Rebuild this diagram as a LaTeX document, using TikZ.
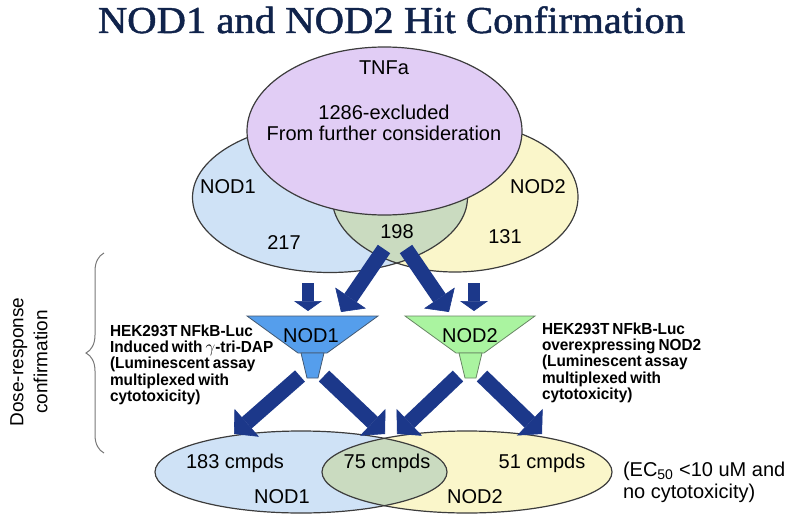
\documentclass[tikz,border=0pt]{standalone}
\usepackage{fontspec}
\setmainfont{Liberation Sans}
\newfontfamily\titlefont[FakeBold=1.2]{Liberation Serif}
\newfontfamily\sidefont[FakeStretch=0.96,WordSpace=0.7]{Liberation Sans}
\usetikzlibrary{arrows.meta,decorations.pathreplacing}
\definecolor{titleblue}{RGB}{16,35,75}
\definecolor{tnfpurple}{RGB}{225,205,245}
\definecolor{nodblue}{RGB}{207,226,246}
\definecolor{nodyellow}{RGB}{250,246,202}
\definecolor{lensgreen}{RGB}{202,219,192}
\definecolor{arrowblue}{RGB}{28,56,138}
\definecolor{funnelblue}{RGB}{85,158,236}
\definecolor{funnelgreen}{RGB}{170,244,160}
\definecolor{outline}{RGB}{60,60,60}
\definecolor{bracegrey}{RGB}{120,120,120}
\tikzset{
  vennline/.style={draw=outline, line width=1.2pt},
  lbl/.style={inner sep=0pt, outer sep=0pt, font=\fontsize{20}{24}\selectfont},
  sidetext/.style={inner sep=0pt, outer sep=0pt, anchor=north west, align=left,
    font=\sidefont\bfseries\fontsize{16}{16.2}\selectfont},
  blockarrow/.style={draw=arrowblue, line width=15pt,
    -{Triangle[width=37pt,length=17pt,line width=0.6pt]}},
  smallarrow/.style={draw=arrowblue, line width=12pt,
    -{Triangle[width=28pt,length=10pt,line width=0.6pt]}},
  funnelA/.style={fill=funnelblue, draw=outline!70!funnelblue, line width=0.8pt},
  funnelB/.style={fill=funnelgreen, draw=outline!60!funnelgreen, line width=0.8pt},
}
\begin{document}
\begin{tikzpicture}[x=1pt,y=-1pt]
\path[use as bounding box] (0,0) rectangle (800,519);

% title
\node[anchor=base, inner sep=0pt, text=titleblue, font=\titlefont\fontsize{38}{40}\selectfont]
  (title) at (391.5,33) {\scalebox{1.07}[1]{NOD1 and NOD2 Hit Confirmation}};

% ---------- top Venn ----------
\fill[nodblue] (330,197.5) ellipse [x radius=137.5pt, y radius=75pt];
\fill[nodyellow] (455,197) ellipse [x radius=123pt, y radius=75pt];
\begin{scope}
  \clip (330,197.5) ellipse [x radius=137.5pt, y radius=75pt];
  \fill[lensgreen] (455,197) ellipse [x radius=123pt, y radius=75pt];
\end{scope}
\draw[vennline] (330,197.5) ellipse [x radius=137.5pt, y radius=75pt];
\draw[vennline] (455,197) ellipse [x radius=123pt, y radius=75pt];
\filldraw[vennline, fill=tnfpurple] (384.5,131) ellipse [x radius=137.5pt, y radius=84pt];

\node[lbl] (tnfa) at (384,68) {TNFa};
\node[lbl] (excl) at (384,112) {1286-excluded};
\node[lbl] (further) at (384,133) {From further consideration};
\node[lbl] (nod1top) at (228,187) {NOD1};
\node[lbl] (nod2top) at (538,187) {NOD2};
\node[lbl] (n217) at (284,243) {217};
\node[lbl] (n198) at (397,232) {198};
\node[lbl] (n131) at (505,237) {131};

% ---------- funnels ----------
\path[funnelA] (247,316) -- (378,316) -- (327,353) -- (298,353) -- cycle;
\path[funnelA] (301,353) -- (324,353) -- (318,378) -- (307,378) -- cycle;
\path[funnelB] (405,316) -- (535,316) -- (484,353) -- (456,353) -- cycle;
\path[funnelB] (459,353) -- (482,353) -- (476,378) -- (465,378) -- cycle;
\node[lbl] (fnod1) at (311,336) {NOD1};
\node[lbl] (fnod2) at (470,336) {NOD2};

% arrow end points
\coordinate (vA1) at (308,283);  \coordinate (vA2) at (308,311);
\coordinate (vB1) at (474,283);  \coordinate (vB2) at (474,311);
\coordinate (dA1) at (384,249);  \coordinate (dA2) at (341,312);
\coordinate (dB1) at (406,249);  \coordinate (dB2) at (449,312);
\coordinate (fA) at (300,376);   \coordinate (fAL) at (234,434);
\coordinate (fA') at (324,376);  \coordinate (fAR) at (385,434);
\coordinate (fB) at (458,376);   \coordinate (fBL) at (397,434);
\coordinate (fB') at (482,376);  \coordinate (fBR) at (542,434);

% ---------- bottom Venn ----------
\fill[nodblue] (301,472) ellipse [x radius=146pt, y radius=41pt];
\fill[nodyellow] (467,472) ellipse [x radius=145pt, y radius=41pt];
\begin{scope}
  \clip (301,472) ellipse [x radius=146pt, y radius=41pt];
  \fill[lensgreen] (467,472) ellipse [x radius=145pt, y radius=41pt];
\end{scope}
\draw[vennline] (301,472) ellipse [x radius=146pt, y radius=41pt];
\draw[vennline] (467,472) ellipse [x radius=145pt, y radius=41pt];

\node[lbl] (c183) at (235,463) {183 cmpds};
\node[lbl] (c75) at (387,463) {75 cmpds};
\node[lbl] (c51) at (542,463) {51 cmpds};
\node[lbl] (bnod1) at (282,497) {NOD1};
\node[lbl] (bnod2) at (475,497) {NOD2};

% ---------- arrows ----------
\draw[smallarrow] (vA1) -- (vA2);
\draw[smallarrow] (vB1) -- (vB2);
\draw[blockarrow] (dA1) -- (dA2);
\draw[blockarrow] (dB1) -- (dB2);
\draw[blockarrow] (fA) -- (fAL);
\draw[blockarrow] (fA') -- (fAR);
\draw[blockarrow] (fB) -- (fBL);
\draw[blockarrow] (fB') -- (fBR);

% ---------- side texts ----------
\node[sidetext] (desc1) at (110,325) {HEK293T NFkB-Luc\\Induced with $\gamma$-tri-DAP\\(Luminescent assay\\multiplexed with\\cytotoxicity)};
\node[sidetext] (desc2) at (542,323) {HEK293T NFkB-Luc\\overexpressing NOD2\\(Luminescent assay\\multiplexed with\\cytotoxicity)};
\node[lbl, anchor=north west, align=left, font=\fontsize{20}{22}\selectfont] (ec50) at (623,462)
  {(EC\textsubscript{50} <10 uM and\\no cytotoxicity)};

% ---------- brace and side label ----------
\coordinate (braceB) at (104,453);
\coordinate (braceT) at (104,253);
\draw[bracegrey, line width=1pt, decorate, decoration={brace, amplitude=18pt}] (braceB) -- (braceT);
\node[inner sep=0pt, rotate=90, align=center, font=\fontsize{19}{24}\selectfont] (dose) at (29,362)
  {Dose-response\\confirmation};
\end{tikzpicture}
\end{document}
